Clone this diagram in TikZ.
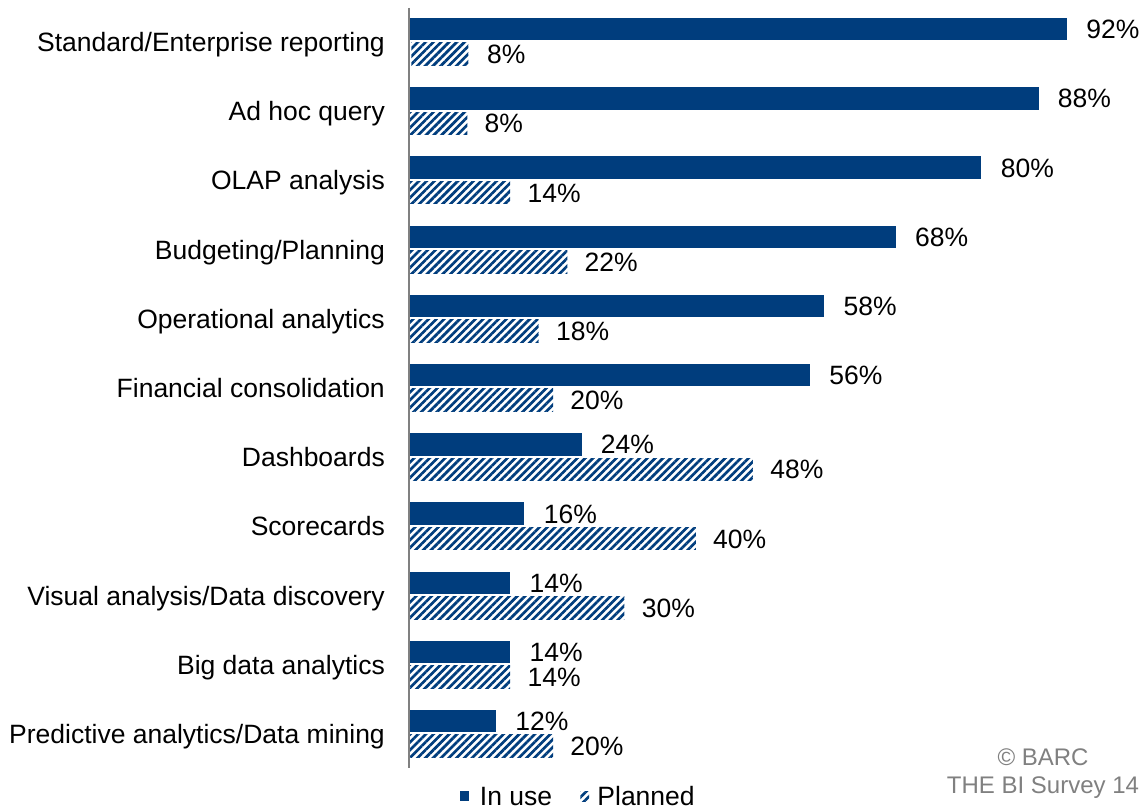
\documentclass[tikz,border=0pt]{standalone}
\usepackage{fontspec}
\setmainfont{Liberation Sans}
\usetikzlibrary{positioning,patterns.meta}
\definecolor{barblue}{RGB}{0,61,125}
\definecolor{axisgray}{RGB}{128,128,128}
\tikzset{inuse/.style={fill=barblue,anchor=west,inner sep=0pt,minimum height=22.5pt,minimum width=#1*7.14pt}}
\tikzset{planned/.style={pattern={Lines[angle=45,distance=5.5pt,line width=2.7pt]},pattern color=barblue,anchor=west,inner sep=0pt,minimum height=22.5pt,minimum width=#1*7.14pt}}
\tikzset{catlabel/.style={anchor=east,inner sep=0pt,text height=19pt,text depth=0pt,font=\fontsize{26.5}{30}\selectfont}}
\tikzset{pctlabel/.style={anchor=west,inner sep=0pt,text height=19pt,text depth=0pt,font=\fontsize{26.5}{30}\selectfont}}
\tikzset{vaxis/.style={draw=axisgray,line width=2.5pt}}
\tikzset{note/.style={anchor=base,inner sep=0pt,text=axisgray,font=\fontsize{24}{28}\selectfont}}

\begin{document}
\begin{tikzpicture}[x=1pt,y=-1pt]
    \useasboundingbox (0,0) rectangle (1147,810);
    \draw[vaxis] (409,8) -- (409,768);
    % categories
    \node[catlabel] (std) at (385,42) {Standard/Enterprise reporting};
    \node[catlabel] (adhoc) at (385,111.2) {Ad hoc query};
    \node[catlabel] (olap) at (385,180.4) {OLAP analysis};
    \node[catlabel] (budget) at (385,249.6) {Budgeting/Planning};
    \node[catlabel] (oper) at (385,318.8) {Operational analytics};
    \node[catlabel] (fin) at (385,388) {Financial consolidation};
    \node[catlabel] (dash) at (385,457.2) {Dashboards};
    \node[catlabel] (score) at (385,526.4) {Scorecards};
    \node[catlabel] (visual) at (385,595.6) {Visual analysis/Data discovery};
    \node[catlabel] (big) at (385,664.8) {Big data analytics};
    \node[catlabel] (pred) at (385,734) {Predictive analytics/Data mining};
    % in use
    \node[inuse=92] (stdu) at (410,29.2) {};
    \node[inuse=88] (adhocu) at (410,98.4) {};
    \node[inuse=80] (olapu) at (410,167.6) {};
    \node[inuse=68] (budgetu) at (410,236.8) {};
    \node[inuse=58] (operu) at (410,306) {};
    \node[inuse=56] (finu) at (410,375.2) {};
    \node[inuse=24] (dashu) at (410,444.4) {};
    \node[inuse=16] (scoreu) at (410,513.6) {};
    \node[inuse=14] (visualu) at (410,582.8) {};
    \node[inuse=14] (bigu) at (410,652) {};
    \node[inuse=12] (predu) at (410,721.2) {};
    % planned
    \node[planned=8] (stdp) at (410,54.2) {};
    \node[planned=8] (adhocp) at (410,123.4) {};
    \node[planned=14] (olapp) at (410,192.6) {};
    \node[planned=22] (budgetp) at (410,261.8) {};
    \node[planned=18] (operp) at (410,331) {};
    \node[planned=20] (finp) at (410,400.2) {};
    \node[planned=48] (dashp) at (410,469.4) {};
    \node[planned=40] (scorep) at (410,538.6) {};
    \node[planned=30] (visualp) at (410,607.8) {};
    \node[planned=14] (bigp) at (410,677) {};
    \node[planned=20] (predp) at (410,746.2) {};
    % values
    \node[pctlabel,right=19pt of stdu] (stdut) {92\%};
    \node[pctlabel,right=17pt of stdp] (stdpt) {8\%};
    \node[pctlabel,right=19pt of adhocu] (adhocut) {88\%};
    \node[pctlabel,right=17pt of adhocp] (adhocpt) {8\%};
    \node[pctlabel,right=19pt of olapu] (olaput) {80\%};
    \node[pctlabel,right=17pt of olapp] (olappt) {14\%};
    \node[pctlabel,right=19pt of budgetu] (budgetut) {68\%};
    \node[pctlabel,right=17pt of budgetp] (budgetpt) {22\%};
    \node[pctlabel,right=19pt of operu] (oput) {58\%};
    \node[pctlabel,right=17pt of operp] (operpt) {18\%};
    \node[pctlabel,right=19pt of finu] (finut) {56\%};
    \node[pctlabel,right=17pt of finp] (finpt) {20\%};
    \node[pctlabel,right=19pt of dashu] (dashut) {24\%};
    \node[pctlabel,right=17pt of dashp] (dashpt) {48\%};
    \node[pctlabel,right=19pt of scoreu] (scoreut) {16\%};
    \node[pctlabel,right=17pt of scorep] (scorept) {40\%};
    \node[pctlabel,right=19pt of visualu] (visualut) {14\%};
    \node[pctlabel,right=17pt of visualp] (visualpt) {30\%};
    \node[pctlabel,right=19pt of bigu] (bigut) {14\%};
    \node[pctlabel,right=17pt of bigp] (bigpt) {14\%};
    \node[pctlabel,right=19pt of predu] (predut) {12\%};
    \node[pctlabel,right=17pt of predp] (predpt) {20\%};
    % legend
    \node[inuse=1.3,minimum height=10pt] (keyu) at (460,796) {};
    \node[pctlabel,right=10pt of keyu] (keyut) {In use};
    \node[planned=1.2,minimum height=10pt,right=28pt of keyut] (keyp) {};
    \node[pctlabel,right=8pt of keyp] (keypt) {Planned};
    \node[note] (barc) at (1043,765.5) {© BARC};
    \node[note] (survey) at (1043,793.5) {THE BI Survey 14};
\end{tikzpicture}
\end{document}
